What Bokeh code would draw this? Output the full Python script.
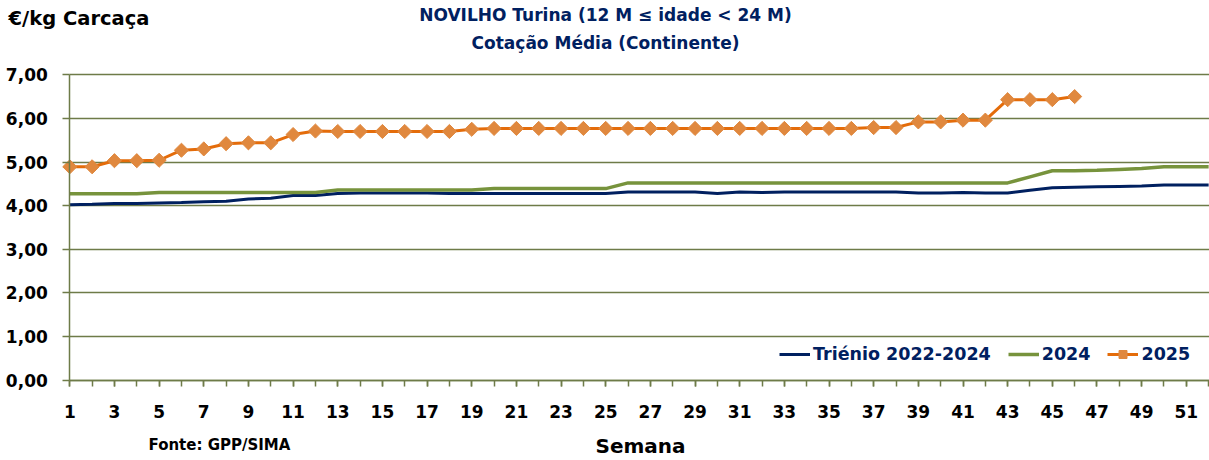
from bokeh.plotting import figure
from bokeh.models import (Range1d, FixedTicker, Label, Legend, LegendItem)
from bokeh.embed import file_html
from bokeh.resources import INLINE
import numpy as np

weeks = list(range(1, 53))
trienio = [4.02, 4.03, 4.05, 4.05, 4.06, 4.07, 4.09, 4.10, 4.15, 4.17,
           4.23, 4.23, 4.28, 4.29, 4.29, 4.29, 4.29, 4.28, 4.28, 4.28,
           4.28, 4.28, 4.28, 4.28, 4.28, 4.31, 4.31, 4.31, 4.31, 4.28,
           4.31, 4.30, 4.31, 4.31, 4.31, 4.31, 4.31, 4.31, 4.29, 4.29,
           4.30, 4.29, 4.29, 4.35, 4.41, 4.42, 4.43, 4.44, 4.45, 4.47,
           4.47, 4.47]
y2024 = [4.27, 4.27, 4.27, 4.27, 4.30, 4.30, 4.30, 4.30, 4.30, 4.30,
         4.30, 4.30, 4.36, 4.36, 4.36, 4.36, 4.36, 4.36, 4.36, 4.39,
         4.39, 4.39, 4.39, 4.39, 4.39, 4.52, 4.52, 4.52, 4.52, 4.52,
         4.52, 4.52, 4.52, 4.52, 4.52, 4.52, 4.52, 4.52, 4.52, 4.52,
         4.52, 4.52, 4.52, 4.66, 4.80, 4.80, 4.81, 4.83, 4.85, 4.89,
         4.89, 4.89]
y2025 = [4.89, 4.89, 5.03, 5.03, 5.04, 5.27, 5.30, 5.42, 5.44, 5.44,
         5.63, 5.71, 5.70, 5.70, 5.70, 5.70, 5.70, 5.70, 5.75, 5.77,
         5.77, 5.77, 5.77, 5.77, 5.77, 5.77, 5.77, 5.77, 5.77, 5.77,
         5.77, 5.77, 5.77, 5.77, 5.77, 5.77, 5.79, 5.79, 5.92, 5.92,
         5.96, 5.96, 6.43, 6.43, 6.43, 6.50]
weeks2025 = weeks[:len(y2025)]
x_ticks = list(range(1, 52, 2))
y_ticks = [0, 1, 2, 3, 4, 5, 6, 7]
y_labels = {t: f"{t},00" for t in y_ticks}

FONT = "DejaVu Sans"
OLIVE = "#6E7B48"
NAVY = "#002060"

W, H = 1209, 460
X0, XSTEP = 69.3, 22.33      # pixel of week 1, pixels per week
Y0, YSTEP = 379.5, 43.6      # pixel of 0,00, pixels per unit
x_start = 1 - X0 / XSTEP
x_end = 1 + (W - X0) / XSTEP
y_end = Y0 / YSTEP
y_start = -(H - Y0) / YSTEP

p = figure(width=W, height=H, output_backend="svg", toolbar_location=None,
           x_range=Range1d(x_start, x_end), y_range=Range1d(y_start, y_end),
           min_border=0)
p.outline_line_color = None
p.background_fill_color = "white"
p.border_fill_color = "white"

# axes drawn at fixed data locations
xa, ya = p.xaxis[0], p.yaxis[0]
xa.fixed_location = 0
ya.fixed_location = 1
xa.bounds = (1, x_end)
ya.bounds = (0, 7)
xa.ticker = FixedTicker(ticks=x_ticks, minor_ticks=weeks)
ya.ticker = FixedTicker(ticks=y_ticks, minor_ticks=[])
ya.major_label_overrides = y_labels
for ax in (xa, ya):
    ax.axis_line_color = OLIVE
    ax.axis_line_width = 1.5
    ax.major_tick_line_color = OLIVE
    ax.minor_tick_line_color = OLIVE
    ax.major_tick_line_width = 1.5
    ax.minor_tick_line_width = 1.5
    ax.major_tick_in = 0
    ax.minor_tick_in = 0
    ax.major_label_text_font = FONT
    ax.major_label_text_font_style = "bold"
    ax.major_label_text_font_size = "17px"
    ax.major_label_text_color = "black"
xa.major_tick_out = 6
xa.minor_tick_out = 6
xa.major_label_standoff = 19
ya.major_tick_out = 7
ya.minor_tick_out = 0
ya.major_label_standoff = 15

p.xgrid.grid_line_color = None
g = p.ygrid[0]
g.ticker = FixedTicker(ticks=y_ticks)
g.bounds = (0, 7)
if hasattr(g, "cross_bounds"):
    g.cross_bounds = (1, x_end)
g.grid_line_color = OLIVE
g.grid_line_width = 1.5

r1 = p.line(weeks, trienio, line_color=NAVY, line_width=3)
r2 = p.line(weeks, y2024, line_color="#77933C", line_width=3.5)
r3 = p.line(weeks2025, y2025, line_color="#E46C0A", line_width=3)
r4 = p.scatter(weeks2025, y2025, marker="square", angle=np.pi / 4, size=10,
               fill_color="#E0883E", line_color="#E0883E")

legend = Legend(items=[LegendItem(label="Triénio 2022-2024", renderers=[r1]),
                       LegendItem(label="2024", renderers=[r2]),
                       LegendItem(label="2025", renderers=[r3, r4])],
                orientation="horizontal", location=(779, 96),
                background_fill_alpha=0, border_line_color=None,
                label_text_font=FONT, label_text_font_style="bold",
                label_text_font_size="17.5px", label_text_color=NAVY,
                glyph_width=31, glyph_height=20, label_height=20,
                label_standoff=3, spacing=17, margin=0, padding=0)
p.add_layout(legend, "center")

def txt(x, y, s, size, color="black", align="left"):
    p.add_layout(Label(x=x, y=y, x_units="screen", y_units="screen", text=s,
                       text_font=FONT, text_font_style="bold",
                       text_font_size=size, text_color=color,
                       text_align=align, text_baseline="middle"))

txt(8, 442, "€/kg Carcaça", "19.5px")
txt(605, 446, "NOVILHO Turina (12 M ≤ idade < 24 M)", "17px", NAVY, "center")
txt(605, 418, "Cotação Média (Continente)", "17px", NAVY, "center")
txt(640, 15, "Semana", "20px", "black", "center")
txt(148, 16, "Fonte: GPP/SIMA", "15px")

open("out.html", "w").write(file_html(p, INLINE))
